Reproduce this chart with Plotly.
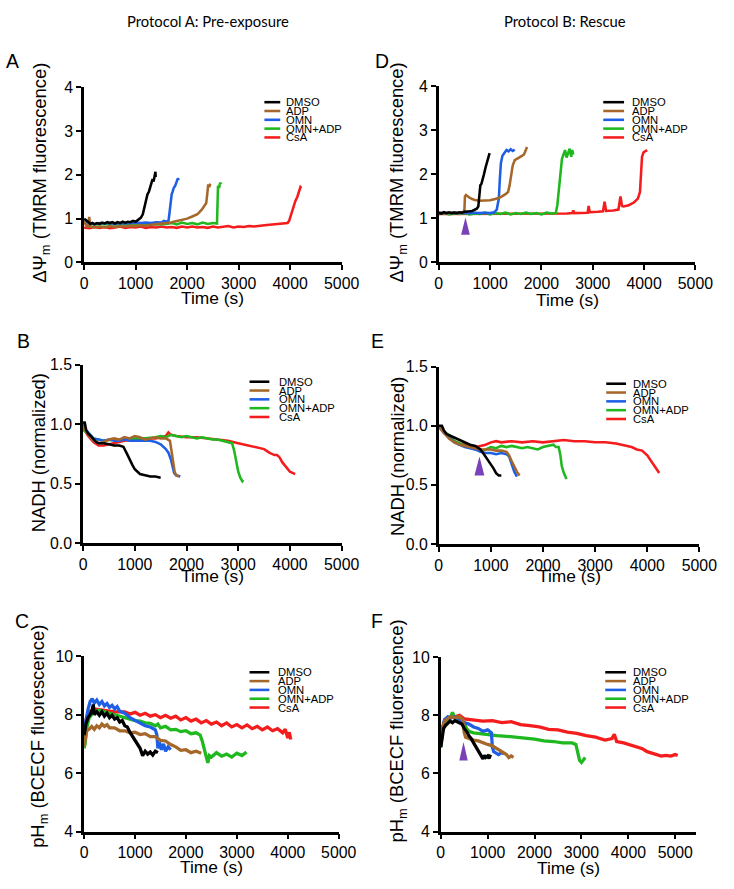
import plotly.graph_objects as go

# ---------------- data (time s, value) ----------------
SERIES = ["DMSO", "ADP", "OMN", "OMN+ADP", "CsA"]
COLORS = ["#000000", "#A5682A", "#1F5FE6", "#1FB81F", "#F41C1C"]
ARROW_COLOR = "#7A42B8"

X_TICKS = [0, 1000, 2000, 3000, 4000, 5000]
Y_TICKS_PSI = [0, 1, 2, 3, 4]
Y_TICKS_NADH = [0.0, 0.5, 1.0, 1.5]
Y_TICKS_PH = [4, 6, 8, 10]

# Panel A: ΔΨm, pre-exposure
A_DMSO = [(0,1.0),(40,0.97),(80,0.93),(120,0.88),(160,0.9),(200,0.87),(250,0.9),(300,0.88),(350,0.91),(400,0.89),(450,0.92),(500,0.9),(550,0.92),(600,0.89),(650,0.92),(700,0.9),(750,0.93),(800,0.91),(850,0.93),(900,0.92),(950,0.95),(1000,0.93),(1050,0.97),(1100,1.02),(1140,1.1),(1170,1.25),(1200,1.42),(1230,1.55),(1260,1.62),(1290,1.75),(1310,1.8),(1330,1.9),(1350,1.85),(1370,2.0),(1385,2.07),(1390,1.95)]
A_ADP = [(0,0.95),(40,0.85),(80,0.8),(100,1.04),(120,0.82),(200,0.8),(300,0.82),(400,0.8),(500,0.83),(600,0.81),(700,0.83),(800,0.82),(900,0.84),(1000,0.83),(1100,0.85),(1200,0.84),(1300,0.86),(1400,0.87),(1500,0.88),(1600,0.9),(1700,0.92),(1800,0.95),(1900,0.98),(2000,1.0),(2100,1.05),(2200,1.1),(2280,1.2),(2340,1.3),(2370,1.35),(2390,1.55),(2410,1.78),(2430,1.72),(2450,1.8)]
A_OMN = [(0,0.93),(100,0.9),(200,0.88),(300,0.9),(400,0.89),(500,0.9),(600,0.88),(700,0.9),(800,0.89),(900,0.9),(1000,0.91),(1100,0.9),(1200,0.91),(1300,0.9),(1400,0.92),(1500,0.91),(1550,0.95),(1600,0.93),(1640,0.96),(1660,1.15),(1680,1.4),(1700,1.55),(1720,1.62),(1740,1.7),(1770,1.75),(1800,1.85),(1820,1.92),(1840,1.88)]
A_OMNADP = [(0,0.9),(200,0.87),(400,0.88),(600,0.87),(800,0.88),(1000,0.87),(1200,0.88),(1400,0.87),(1600,0.88),(1700,0.9),(1800,0.87),(1900,0.91),(2000,0.88),(2100,0.9),(2200,0.87),(2300,0.91),(2400,0.88),(2500,0.9),(2580,0.89),(2590,1.2),(2600,1.75),(2620,1.7),(2640,1.82),(2660,1.78)]
A_CSA = [(0,0.8),(100,0.78),(200,0.81),(300,0.79),(400,0.81),(500,0.78),(600,0.8),(700,0.82),(800,0.79),(900,0.81),(1000,0.8),(1100,0.82),(1200,0.79),(1300,0.81),(1400,0.8),(1500,0.82),(1600,0.8),(1700,0.81),(1800,0.79),(1900,0.82),(2000,0.8),(2100,0.82),(2200,0.8),(2300,0.81),(2400,0.79),(2500,0.82),(2600,0.8),(2700,0.81),(2800,0.83),(2900,0.8),(3000,0.82),(3100,0.81),(3200,0.83),(3300,0.82),(3400,0.84),(3500,0.85),(3600,0.86),(3700,0.87),(3800,0.88),(3900,0.9),(3950,0.9),(3980,0.95),(4020,1.1),(4060,1.3),(4100,1.4),(4140,1.5),(4170,1.62),(4200,1.72),(4220,1.7)]

# Panel D: ΔΨm, rescue
D_DMSO = [(0,1.13),(50,1.11),(100,1.14),(150,1.12),(200,1.14),(250,1.12),(300,1.13),(350,1.12),(400,1.14),(450,1.13),(500,1.15),(550,1.15),(600,1.16),(650,1.17),(700,1.19),(740,1.22),(770,1.27),(785,1.45),(795,1.7),(810,1.75),(830,1.78),(850,1.85),(880,2.0),(910,2.15),(940,2.3),(970,2.42),(990,2.48)]
D_ADP = [(0,1.12),(100,1.13),(200,1.12),(300,1.13),(400,1.12),(480,1.14),(500,1.2),(510,1.5),(530,1.53),(560,1.5),(600,1.47),(650,1.44),(700,1.42),(800,1.4),(900,1.4),(1000,1.41),(1100,1.44),(1200,1.48),(1300,1.55),(1350,1.6),(1380,1.75),(1410,2.0),(1440,2.2),(1480,2.32),(1550,2.38),(1620,2.42),(1660,2.45),(1690,2.55),(1720,2.62)]
D_OMN = [(0,1.12),(100,1.13),(200,1.12),(300,1.13),(400,1.12),(500,1.13),(600,1.12),(700,1.13),(800,1.12),(900,1.13),(1000,1.12),(1080,1.14),(1130,1.2),(1170,1.45),(1190,1.9),(1210,2.25),(1240,2.42),(1280,2.48),(1320,2.55),(1360,2.52),(1400,2.57),(1440,2.53),(1480,2.56)]
D_OMNADP = [(0,1.1),(100,1.12),(200,1.09),(300,1.11),(400,1.1),(500,1.12),(600,1.09),(700,1.11),(800,1.1),(900,1.13),(1000,1.09),(1100,1.12),(1200,1.1),(1300,1.13),(1400,1.09),(1500,1.12),(1600,1.1),(1700,1.13),(1800,1.1),(1900,1.12),(2000,1.09),(2100,1.13),(2200,1.11),(2280,1.12),(2310,1.3),(2340,1.7),(2370,2.1),(2400,2.35),(2430,2.45),(2460,2.55),(2490,2.38),(2520,2.5),(2550,2.58),(2580,2.4),(2600,2.55),(2620,2.45)]
D_CSA = [(0,1.1),(500,1.1),(1000,1.1),(1500,1.1),(2000,1.1),(2300,1.1),(2500,1.11),(2600,1.12),(2620,1.18),(2640,1.12),(2800,1.12),(2900,1.13),(2920,1.28),(2940,1.14),(3100,1.15),(3200,1.16),(3230,1.38),(3260,1.17),(3400,1.18),(3500,1.2),(3540,1.5),(3570,1.28),(3600,1.27),(3700,1.3),(3800,1.36),(3880,1.45),(3920,1.6),(3945,2.0),(3960,2.4),(3990,2.5),(4030,2.52),(4060,2.55)]

# Panel B: NADH, pre-exposure
B_DMSO = [(0,1.0),(30,1.02),(60,0.95),(100,0.92),(150,0.9),(200,0.87),(250,0.85),(300,0.84),(400,0.84),(500,0.83),(600,0.82),(700,0.82),(780,0.81),(850,0.75),(900,0.7),(950,0.66),(1000,0.62),(1050,0.6),(1100,0.58),(1200,0.57),(1300,0.56),(1400,0.56),(1500,0.55)]
B_ADP = [(0,0.98),(60,0.94),(120,0.9),(200,0.86),(300,0.84),(400,0.85),(500,0.87),(600,0.88),(700,0.87),(800,0.89),(900,0.88),(1000,0.9),(1100,0.89),(1200,0.87),(1300,0.88),(1400,0.89),(1500,0.88),(1600,0.88),(1680,0.86),(1710,0.78),(1740,0.68),(1770,0.6),(1800,0.57),(1850,0.56)]
B_OMN = [(0,1.0),(60,0.95),(120,0.92),(200,0.88),(300,0.87),(400,0.86),(500,0.87),(600,0.86),(700,0.86),(800,0.87),(900,0.86),(1000,0.86),(1100,0.86),(1200,0.86),(1300,0.86),(1400,0.85),(1500,0.83),(1600,0.79),(1650,0.76),(1700,0.7),(1730,0.63),(1760,0.59),(1800,0.57),(1880,0.56)]
B_OMNADP = [(0,0.95),(100,0.92),(200,0.88),(400,0.86),(600,0.87),(800,0.87),(1000,0.88),(1200,0.88),(1400,0.89),(1500,0.9),(1600,0.89),(1700,0.91),(1800,0.9),(1900,0.89),(2000,0.9),(2100,0.89),(2200,0.88),(2300,0.89),(2400,0.88),(2500,0.87),(2600,0.87),(2700,0.86),(2800,0.85),(2880,0.84),(2920,0.78),(2960,0.68),(3000,0.6),(3040,0.55),(3080,0.52),(3100,0.53)]
B_CSA = [(0,0.97),(100,0.9),(200,0.85),(300,0.82),(400,0.82),(500,0.83),(600,0.84),(800,0.86),(1000,0.87),(1200,0.88),(1400,0.88),(1600,0.9),(1650,0.93),(1700,0.91),(1800,0.9),(2000,0.89),(2200,0.89),(2400,0.88),(2600,0.87),(2800,0.86),(3000,0.84),(3200,0.82),(3300,0.81),(3400,0.8),(3500,0.79),(3600,0.76),(3700,0.74),(3750,0.74),(3800,0.72),(3850,0.68),(3900,0.65),(3950,0.62),(4000,0.6),(4050,0.59),(4100,0.58)]

# Panel E: NADH, rescue
E_DMSO = [(0,1.0),(60,1.0),(100,0.96),(150,0.93),(200,0.92),(300,0.9),(400,0.88),(500,0.86),(600,0.84),(700,0.83),(800,0.8),(850,0.77),(900,0.74),(950,0.71),(1000,0.68),(1050,0.64),(1100,0.6),(1150,0.58),(1200,0.58)]
E_ADP = [(0,0.99),(100,0.94),(200,0.89),(300,0.86),(400,0.84),(500,0.83),(600,0.82),(700,0.81),(800,0.8),(900,0.8),(1000,0.8),(1100,0.79),(1200,0.79),(1300,0.78),(1350,0.75),(1400,0.7),(1450,0.65),(1500,0.61),(1550,0.58)]
E_OMN = [(0,1.0),(100,0.94),(200,0.9),(300,0.86),(400,0.84),(500,0.82),(600,0.81),(700,0.8),(800,0.78),(900,0.77),(1000,0.77),(1100,0.76),(1200,0.77),(1300,0.76),(1350,0.74),(1400,0.68),(1450,0.61),(1500,0.57)]
E_OMNADP = [(0,1.0),(100,0.95),(200,0.92),(300,0.87),(400,0.85),(500,0.83),(600,0.82),(700,0.8),(800,0.79),(900,0.8),(1000,0.82),(1100,0.81),(1200,0.83),(1300,0.82),(1400,0.83),(1500,0.82),(1600,0.81),(1700,0.82),(1800,0.81),(1900,0.8),(2000,0.82),(2100,0.83),(2200,0.84),(2250,0.82),(2300,0.82),(2330,0.76),(2360,0.66),(2400,0.6),(2450,0.55)]
E_CSA = [(0,1.0),(100,0.94),(200,0.9),(300,0.87),(400,0.85),(500,0.84),(600,0.83),(700,0.82),(800,0.83),(900,0.84),(1000,0.86),(1100,0.87),(1200,0.86),(1400,0.87),(1600,0.86),(1800,0.87),(2000,0.86),(2200,0.87),(2400,0.88),(2600,0.87),(2800,0.87),(3000,0.86),(3200,0.86),(3400,0.85),(3600,0.83),(3700,0.82),(3800,0.8),(3900,0.79),(4000,0.75),(4100,0.68),(4200,0.62),(4230,0.6)]

# Panel C: pHm, pre-exposure
C_DMSO = [(0,7.3),(40,7.7),(80,7.9),(120,8.0),(160,8.15),(180,8.35),(200,8.0),(250,8.1),(300,7.98),(350,8.1),(400,7.95),(450,8.05),(500,7.9),(550,7.98),(600,7.85),(650,7.9),(700,7.75),(750,7.8),(800,7.62),(850,7.58),(900,7.4),(950,7.25),(1000,7.1),(1050,6.95),(1100,6.85),(1150,6.6),(1200,6.75),(1250,6.65),(1300,6.72),(1350,6.62),(1400,6.75),(1450,6.7)]
C_ADP = [(0,6.9),(20,7.2),(50,7.45),(100,7.5),(150,7.6),(200,7.5),(250,7.62),(300,7.55),(350,7.68),(400,7.6),(450,7.66),(500,7.55),(600,7.55),(700,7.45),(800,7.45),(900,7.38),(1000,7.4),(1100,7.32),(1200,7.35),(1300,7.25),(1400,7.25),(1500,7.12),(1600,7.1),(1700,6.98),(1800,6.9),(1900,6.78),(2000,6.8),(2100,6.7),(2200,6.75),(2300,6.68)]
C_OMN = [(0,7.45),(40,7.9),(80,8.2),(120,8.45),(160,8.55),(200,8.4),(250,8.5),(300,8.35),(350,8.45),(400,8.3),(450,8.38),(500,8.25),(550,8.32),(600,8.2),(650,8.28),(700,8.12),(800,8.05),(900,7.9),(1000,7.8),(1100,7.72),(1200,7.62),(1300,7.58),(1400,7.48),(1430,7.3),(1450,6.85),(1480,7.05),(1520,6.8),(1560,7.0),(1600,6.75),(1650,6.9),(1700,6.8)]
C_OMNADP = [(0,6.85),(20,7.0),(60,7.6),(100,7.9),(200,8.1),(300,8.15),(400,8.1),(500,8.05),(600,8.0),(700,7.95),(800,7.9),(900,7.85),(1000,7.8),(1100,7.78),(1200,7.72),(1300,7.7),(1400,7.62),(1450,7.68),(1500,7.55),(1600,7.6),(1700,7.48),(1800,7.5),(1900,7.42),(2000,7.45),(2100,7.35),(2200,7.38),(2280,7.3),(2320,7.1),(2360,6.85),(2400,6.6),(2430,6.35),(2460,6.6),(2500,6.55),(2600,6.7),(2700,6.58),(2800,6.65),(2900,6.55),(3000,6.68),(3100,6.6),(3190,6.72)]
C_CSA = [(0,7.5),(50,7.9),(100,8.1),(200,8.2),(400,8.15),(600,8.1),(800,8.1),(900,8.02),(1000,8.08),(1100,7.98),(1200,8.05),(1300,7.95),(1400,8.0),(1500,7.9),(1600,7.98),(1700,7.88),(1800,7.95),(1900,7.82),(2000,7.9),(2100,7.78),(2200,7.85),(2300,7.72),(2400,7.8),(2500,7.68),(2600,7.75),(2700,7.62),(2800,7.72),(2900,7.58),(3000,7.66),(3100,7.55),(3200,7.65),(3300,7.52),(3400,7.6),(3500,7.48),(3600,7.58),(3700,7.45),(3800,7.52),(3900,7.38),(3950,7.5),(4000,7.2),(4030,7.4),(4060,7.15)]

# Panel F: pHm, rescue
F_DMSO = [(0,6.9),(30,7.3),(60,7.55),(100,7.65),(150,7.72),(200,7.8),(250,7.75),(300,7.82),(350,7.78),(400,7.75),(450,7.7),(500,7.55),(550,7.45),(600,7.3),(650,7.2),(700,7.05),(750,6.9),(800,6.75),(850,6.6),(900,6.5),(930,6.62),(960,6.55),(1000,6.6),(1030,6.52),(1060,6.65)]
F_ADP = [(0,7.0),(40,7.55),(80,7.8),(150,7.9),(200,7.95),(300,7.92),(400,7.95),(470,7.85),(500,7.4),(530,7.25),(600,7.2),(700,7.15),(800,7.12),(900,7.05),(1000,7.0),(1100,6.95),(1200,6.85),(1300,6.75),(1400,6.65),(1450,6.55),(1500,6.6),(1550,6.55)]
F_OMN = [(0,7.0),(40,7.6),(80,7.85),(150,7.95),(200,7.9),(300,7.95),(400,7.85),(500,7.75),(600,7.7),(700,7.6),(800,7.55),(900,7.45),(1000,7.5),(1080,7.4),(1100,6.9),(1130,6.75),(1180,6.7),(1230,6.65),(1300,6.72),(1350,6.68)]
F_OMNADP = [(0,6.9),(40,7.5),(80,7.75),(150,7.85),(200,7.9),(250,8.1),(300,7.9),(400,7.85),(500,7.75),(550,7.55),(600,7.45),(700,7.4),(800,7.38),(900,7.35),(1000,7.32),(1200,7.3),(1400,7.28),(1600,7.25),(1800,7.2),(2000,7.18),(2200,7.12),(2400,7.1),(2600,7.05),(2800,7.05),(2880,7.0),(2920,6.75),(2960,6.45),(3000,6.38),(3040,6.45),(3080,6.55)]
F_CSA = [(0,7.0),(40,7.55),(80,7.8),(150,7.9),(300,7.95),(400,8.0),(500,7.88),(700,7.85),(900,7.8),(1100,7.82),(1300,7.75),(1500,7.78),(1700,7.68),(1900,7.65),(2100,7.6),(2300,7.52),(2500,7.5),(2700,7.42),(2900,7.38),(3100,7.3),(3300,7.25),(3500,7.15),(3650,7.2),(3700,7.35),(3750,7.1),(3900,7.05),(4100,6.95),(4300,6.85),(4400,6.75),(4500,6.7),(4600,6.65),(4700,6.6),(4800,6.62),(4900,6.6),(5000,6.65),(5050,6.62)]

# treatment-addition arrows (time, base value, tip value, half width in s)
ARROW_D = (520, 0.63, 1.02, 85)
ARROW_E = (780, 0.58, 0.74, 95)
ARROW_F = (485, 6.45, 7.08, 90)

# ---------------- layout helpers (target pixel -> paper) ----------------
W, H = 734, 889
# measured rendering calibration of the capture (scale and offset in pixels)
S, OFFX, OFFY = 0.979, 2.2, 9.0
def px(x): return ((x - OFFX) / S) / W
def py(y): return 1 - ((y - OFFY) / S) / H
def fs(size): return size / S

FONT = "Liberation Sans, Arial, sans-serif"

panels = [
    dict(n=1, letter="A", series=[A_DMSO, A_ADP, A_OMN, A_OMNADP, A_CSA], box=(83, 343, 88, 263),
         yr=[0, 4], yt=Y_TICKS_PSI, yfmt=None, xr=[0, 5000], arrow=None,
         ytitle="ΔΨ<sub>m</sub> (TMRM fluorescence)", ytx=40, yty=173, xty=298,
         leg=(265, 281, 285, 103), lab=(11, 62)),
    dict(n=2, letter="D", series=[D_DMSO, D_ADP, D_OMN, D_OMNADP, D_CSA], box=(441, 700, 87, 263),
         yr=[0, 4], yt=Y_TICKS_PSI, yfmt=None, xr=[0, 5000], arrow=ARROW_D,
         ytitle="ΔΨ<sub>m</sub> (TMRM fluorescence)", ytx=400, yty=173, xty=300,
         leg=(607, 628, 634, 103), lab=(384, 62)),
    dict(n=3, letter="B", series=[B_DMSO, B_ADP, B_OMN, B_OMNADP, B_CSA], box=(82, 343, 365, 543),
         yr=[0, 1.5], yt=Y_TICKS_NADH, yfmt=".1f", xr=[0, 5000], arrow=None,
         ytitle="NADH (normalized)", ytx=37, yty=453, xty=576,
         leg=(250, 270, 278, 382), lab=(22, 341)),
    dict(n=4, letter="E", series=[E_DMSO, E_ADP, E_OMN, E_OMNADP, E_CSA], box=(441, 704, 367, 544),
         yr=[0, 1.5], yt=Y_TICKS_NADH, yfmt=".1f", xr=[0, 5000], arrow=ARROW_E,
         ytitle="NADH (normalized)", ytx=400, yty=457, xty=576,
         leg=(610, 630, 635, 384), lab=(379, 341)),
    dict(n=5, letter="C", series=[C_DMSO, C_ADP, C_OMN, C_OMNADP, C_CSA], box=(83, 340, 656, 831),
         yr=[4, 10], yt=Y_TICKS_PH, yfmt=None, xr=[0, 5000], arrow=None,
         ytitle="pH<sub>m</sub> (BCECF fluorescence)", ytx=38, yty=736, xty=866,
         leg=(250, 270, 277, 672), lab=(20, 621)),
    dict(n=6, letter="F", series=[F_DMSO, F_ADP, F_OMN, F_OMNADP, F_CSA], box=(443, 701, 657, 831),
         yr=[4, 10], yt=Y_TICKS_PH, yfmt=None, xr=[0, 5450], arrow=ARROW_F,
         ytitle="pH<sub>m</sub> (BCECF fluorescence)", ytx=400, yty=731, xty=867,
         leg=(609, 630, 635, 672), lab=(379, 621)),
]

fig = go.Figure()
layout = dict(width=W, height=H, autosize=False, margin=dict(l=0, r=0, t=0, b=0),
              paper_bgcolor="white", plot_bgcolor="white", showlegend=False)
annotations = []
shapes = []

axis_common = dict(showline=True, linecolor="black", linewidth=2.5 / S, ticks="outside",
                   ticklen=5 / S, tickwidth=2 / S, tickcolor="black", showgrid=False, zeroline=False,
                   tickfont=dict(family=FONT, size=fs(15.5), color="black"), fixedrange=True)

for p in panels:
    n = p["n"]
    xa = "x" if n == 1 else f"x{n}"
    ya = "y" if n == 1 else f"y{n}"
    x0, x1, y0, y1 = p["box"]
    is_ph = p["yr"][0] == 4
    width = (3.2 if is_ph else 2.5) / S
    order = [4, 3, 2, 1, 0]  # CsA first so DMSO ends on top
    for i in order:
        pts = p["series"][i]
        fig.add_trace(go.Scatter(x=[a for a, _ in pts], y=[b for _, b in pts], mode="lines",
                                 line=dict(color=COLORS[i], width=width), name=SERIES[i],
                                 xaxis=xa, yaxis=ya, hoverinfo="skip"))
    if p["arrow"] is not None:
        t, vb, vt, hw = p["arrow"]
        fig.add_trace(go.Scatter(x=[t - hw, t + hw, t, t - hw], y=[vb, vb, vt, vb], mode="lines",
                                 fill="toself", fillcolor=ARROW_COLOR, line=dict(width=0, color=ARROW_COLOR),
                                 xaxis=xa, yaxis=ya, hoverinfo="skip"))
    xkey = "xaxis" if n == 1 else f"xaxis{n}"
    ykey = "yaxis" if n == 1 else f"yaxis{n}"
    layout[xkey] = dict(axis_common, domain=[px(x0), px(x1)], anchor=ya, range=p["xr"],
                        tickvals=X_TICKS)
    yax = dict(axis_common, domain=[py(y1), py(y0)], anchor=xa, range=p["yr"], tickvals=p["yt"])
    if p["yfmt"]:
        yax["tickformat"] = p["yfmt"]
    layout[ykey] = yax
    annotations.append(dict(text=p["ytitle"], x=px(p["ytx"]), y=py(p["yty"]), xref="paper", yref="paper",
                            textangle=-90, showarrow=False, xanchor="center", yanchor="middle",
                            font=dict(family=FONT, size=fs(18), color="black")))
    annotations.append(dict(text="Time (s)", x=px((x0 + x1) / 2), y=py(p["xty"]), xref="paper", yref="paper",
                            showarrow=False, xanchor="center", yanchor="middle",
                            font=dict(family=FONT, size=fs(17), color="black")))
    annotations.append(dict(text=p["letter"], x=px(p["lab"][0]), y=py(p["lab"][1]), xref="paper", yref="paper",
                            showarrow=False, xanchor="center", yanchor="middle",
                            font=dict(family=FONT, size=fs(19), color="black")))
    lx0, lx1, tx, ly = p["leg"]
    for i, name in enumerate(SERIES):
        yy = ly + i * 8.8
        shapes.append(dict(type="line", xref="paper", yref="paper", x0=px(lx0), x1=px(lx1),
                           y0=py(yy), y1=py(yy), line=dict(color=COLORS[i], width=2.5 / S)))
        annotations.append(dict(text=name, x=px(tx), y=py(yy), xref="paper", yref="paper",
                                showarrow=False, xanchor="left", yanchor="middle",
                                font=dict(family=FONT, size=fs(11), color="black")))

annotations.append(dict(text="Protocol A: Pre-exposure", x=px(208), y=py(22), xref="paper", yref="paper",
                        showarrow=False, xanchor="center", yanchor="middle",
                        font=dict(family="Lato, " + FONT, size=fs(14.5), color="black")))
annotations.append(dict(text="Protocol B: Rescue", x=px(568), y=py(22), xref="paper", yref="paper",
                        showarrow=False, xanchor="center", yanchor="middle",
                        font=dict(family="Lato, " + FONT, size=fs(14.5), color="black")))

layout["annotations"] = annotations
layout["shapes"] = shapes
fig.update_layout(**layout)
fig.write_html("out.html", config={"displayModeBar": False},
               post_script="document.body.style.margin='0';document.body.style.padding='0';"
                           "document.documentElement.style.overflow='hidden';"
                           "document.body.style.overflow='hidden';")
